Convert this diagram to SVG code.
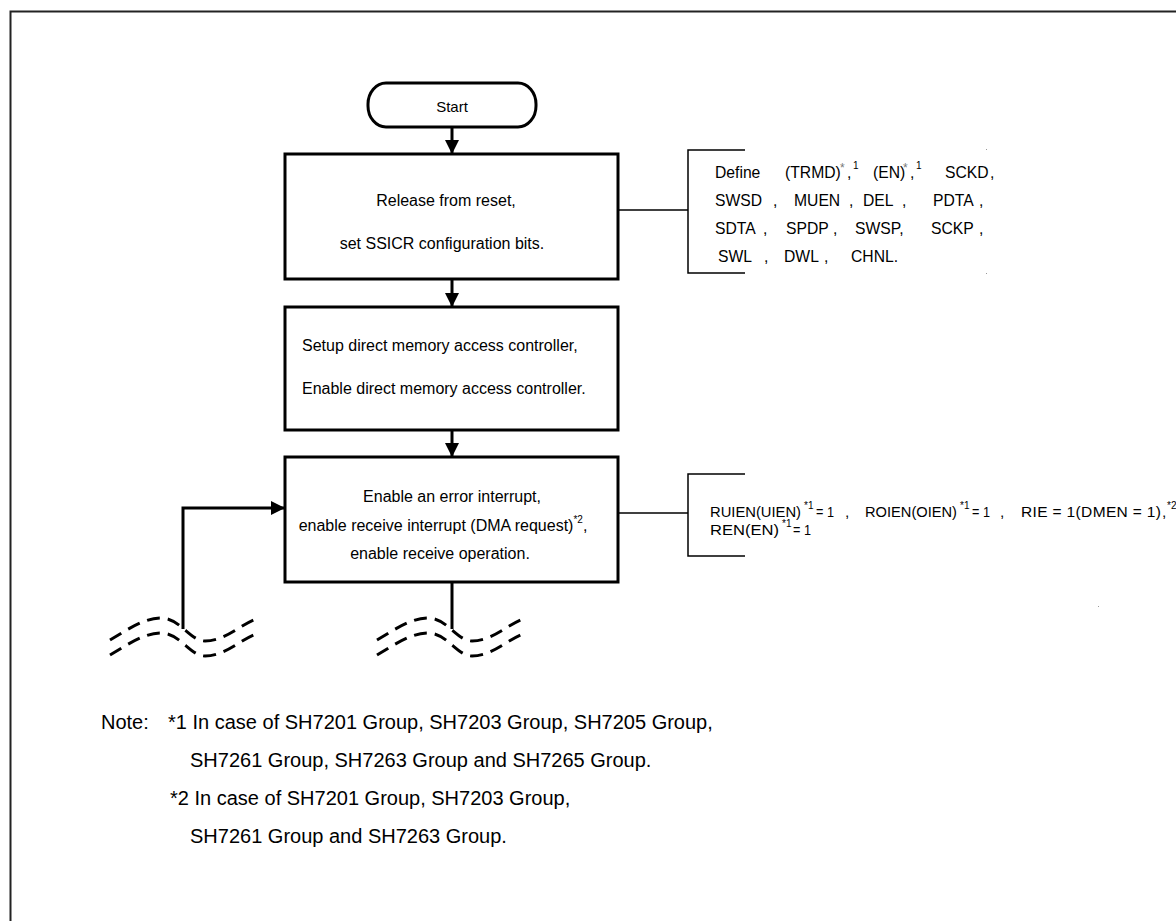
<svg xmlns="http://www.w3.org/2000/svg" width="1176" height="921" viewBox="0 0 1176 921">
<defs>
<style>
text{font-family:"Liberation Sans",Arial,sans-serif;fill:#000}
.bt{font-size:16px}
.br{font-size:15.7px}
.br2{font-size:15.5px}
.sup{font-size:10px}
.ast{font-size:12px;fill:#777}
.nt{font-size:20px}
.box{fill:#fff;stroke:#000;stroke-width:3}
.conn{fill:none;stroke:#000;stroke-width:3}
.thin{fill:none;stroke:#000;stroke-width:1.5}
.wave{fill:none;stroke:#000;stroke-width:3;stroke-dasharray:13 8}
</style>
<marker id="ah" viewBox="0 0 14 14" refX="14" refY="7" markerWidth="14" markerHeight="14" markerUnits="userSpaceOnUse" orient="auto">
<path d="M0,0 L14,7 L0,14 Z" fill="#000"/>
</marker>
</defs>
<rect width="1176" height="921" fill="#fff"/>
<path d="M10.5,921 V11.5 H1176" fill="none" stroke="#222" stroke-width="2"/>

<g id="connectors">
<line class="conn" x1="452" y1="127" x2="452" y2="154" marker-end="url(#ah)"/>
<line class="conn" x1="452" y1="279" x2="452" y2="307" marker-end="url(#ah)"/>
<line class="conn" x1="452" y1="430" x2="452" y2="457" marker-end="url(#ah)"/>
<line class="conn" x1="452" y1="582" x2="452" y2="629"/>
<polyline class="conn" points="183,629 183,508 285,508" marker-end="url(#ah)"/>
<line class="thin" x1="618" y1="210" x2="688" y2="210"/>
<line class="thin" x1="618" y1="513" x2="688" y2="513"/>
</g>

<g id="start">
<rect x="368" y="83" width="168" height="44" rx="18" ry="21" fill="#fff" stroke="#000" stroke-width="3"/>
<text x="452" y="112" font-size="15" text-anchor="middle">Start</text>
</g>

<g id="box1">
<rect class="box" x="285" y="154" width="333" height="125"/>
<text class="bt" x="446" y="206" text-anchor="middle">Release from reset,</text>
<text class="bt" x="442" y="249" text-anchor="middle">set SSICR configuration bits.</text>
</g>

<g id="note1">
<path class="thin" d="M745,150 H688 V273 H745"/>
<text class="br" x="715" y="178">Define</text>
<text class="br" x="785" y="178">(TRMD)</text>
<text class="ast" x="840" y="172">*</text>
<text class="br" x="847" y="178">,</text>
<text class="sup" x="853" y="169">1</text>
<text class="br" x="873" y="178">(EN)</text>
<text class="ast" x="903" y="172">*</text>
<text class="br" x="910" y="178">,</text>
<text class="sup" x="916" y="169">1</text>
<text class="br" x="945" y="178">SCKD<tspan x="990">,</tspan></text>
<text class="br" x="715" y="206">SWSD<tspan x="773">,</tspan></text>
<text class="br" x="794" y="206">MUEN<tspan x="849">,</tspan></text>
<text class="br" x="863" y="206">DEL<tspan x="902">,</tspan></text>
<text class="br" x="933" y="206">PDTA<tspan x="979">,</tspan></text>
<text class="br" x="715" y="234">SDTA<tspan x="763">,</tspan></text>
<text class="br" x="786" y="234">SPDP<tspan x="833">,</tspan></text>
<text class="br" x="855" y="234">SWSP,</text>
<text class="br" x="931" y="234">SCKP<tspan x="979">,</tspan></text>
<text class="br" x="718" y="262">SWL<tspan x="764">,</tspan></text>
<text class="br" x="784" y="262">DWL<tspan x="824">,</tspan></text>
<text class="br" x="851" y="262">CHNL.</text>
</g>

<g id="box2">
<rect class="box" x="285" y="307" width="333" height="123"/>
<text class="bt" x="302" y="351">Setup direct memory access controller,</text>
<text class="bt" x="302" y="394">Enable direct memory access controller.</text>
</g>

<g id="box3">
<rect class="box" x="285" y="457" width="333" height="125"/>
<text class="bt" x="452" y="502" text-anchor="middle">Enable an error interrupt,</text>
<text class="bt" x="443" y="531" text-anchor="middle">enable receive interrupt (DMA request)<tspan class="sup" dy="-8">*2</tspan><tspan dy="8">,</tspan></text>
<text class="bt" x="440" y="559" text-anchor="middle">enable receive operation.</text>
</g>

<g id="note2">
<path class="thin" d="M745,474 H688 V556 H745"/>
<text class="br2" x="710" y="517" textLength="91" lengthAdjust="spacingAndGlyphs">RUIEN(UIEN)</text>
<text class="sup" x="804" y="509">*1</text>
<text class="br2" x="816" y="517" textLength="18" lengthAdjust="spacingAndGlyphs">= 1</text>
<text class="br2" x="845" y="517">,</text>
<text class="br2" x="865" y="517" textLength="92" lengthAdjust="spacingAndGlyphs">ROIEN(OIEN)</text>
<text class="sup" x="960" y="509">*1</text>
<text class="br2" x="972" y="517" textLength="18" lengthAdjust="spacingAndGlyphs">= 1</text>
<text class="br2" x="1000" y="517">,</text>
<text class="br2" x="1021" y="517" textLength="140" lengthAdjust="spacing">RIE = 1(DMEN = 1)</text>
<text class="br2" x="1162" y="517">,</text>
<text class="sup" x="1167" y="509">*2</text>
<text class="br2" x="710" y="535" textLength="69" lengthAdjust="spacingAndGlyphs">REN(EN)</text>
<text class="sup" x="782" y="527">*1</text>
<text class="br2" x="793" y="535" textLength="18" lengthAdjust="spacingAndGlyphs">= 1</text>
</g>

<g id="break-left">
<path class="wave" d="M110,640 C130,628 145,618 161,618 C180,618 190,641 205,641 C225,641 240,625 256,619"/>
<path class="wave" d="M110,655 C130,643 145,633 161,633 C180,633 190,656 205,656 C225,656 240,640 256,634"/>
</g>
<g id="break-right">
<path class="wave" d="M377,640 C397,628 412,618 428,618 C447,618 457,641 472,641 C492,641 507,625 523,619"/>
<path class="wave" d="M377,655 C397,643 412,633 428,633 C447,633 457,656 472,656 C492,656 507,640 523,634"/>
</g>

<g id="notes">
<text class="nt" x="101" y="729">Note:</text>
<text class="nt" x="168" y="729">*1 In case of SH7201 Group, SH7203 Group, SH7205 Group,</text>
<text class="nt" x="190" y="767">SH7261 Group, SH7263 Group and SH7265 Group.</text>
<text class="nt" x="170" y="805">*2 In case of SH7201 Group, SH7203 Group,</text>
<text class="nt" x="190" y="843">SH7261 Group and SH7263 Group.</text>
</g>

<g id="specks" fill="#999">
<rect x="986" y="149" width="1" height="1"/>
<rect x="986" y="273" width="1" height="1"/>
<rect x="1098" y="606" width="1" height="1"/>
</g>
</svg>
